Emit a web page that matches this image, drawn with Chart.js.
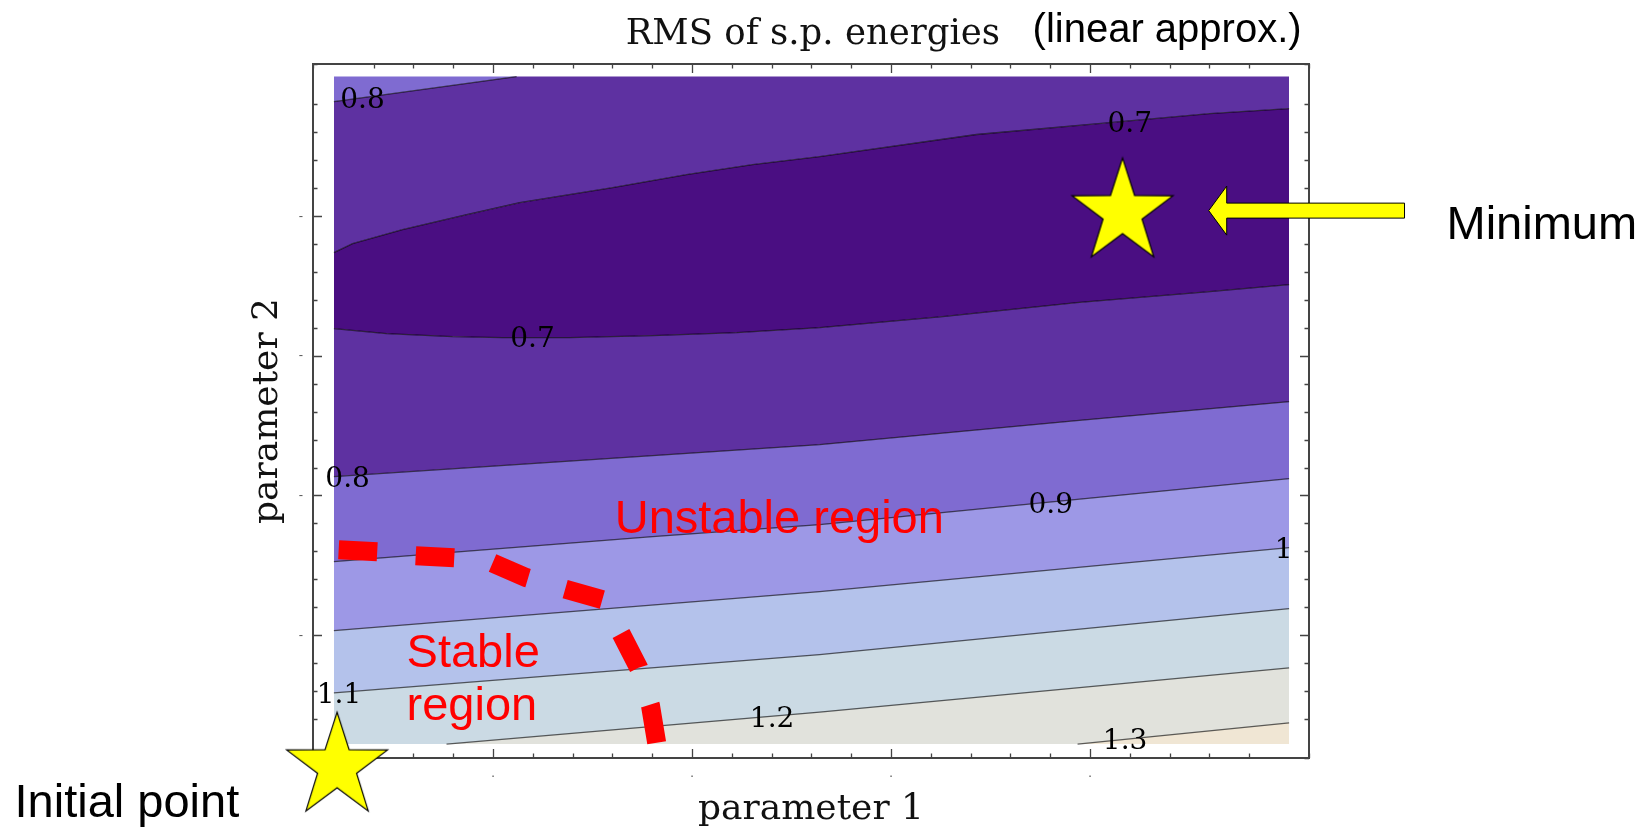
<!DOCTYPE html>
<html>
<head>
<meta charset="utf-8">
<title>RMS of s.p. energies</title>
<script src="https://cdn.jsdelivr.net/npm/chart.js@4.4.0/dist/chart.umd.min.js"></script>
<style>
  html, body { margin: 0; padding: 0; background: #fff; }
  #wrap { width: 1646px; height: 828px; position: relative; }
</style>
</head>
<body>
<div id="wrap"><canvas id="chartCanvas"></canvas></div>
<script>
// extent of the filled contour area (parameter 1 / parameter 2 units)
const xLeft = 0.2, xRight = 5.0;
const yTop = 5.0, yBottom = 0.22;

// contour lines, top to bottom
const c08TopX = [0.2, 1.118, 5.0];
const c08TopY = [4.821, 5.0, 5.0];
const c07UpX = [0.2, 0.294, 0.545, 0.867, 1.133, 1.601, 1.972, 2.304, 2.641, 3.43, 4.098, 4.601, 5.0];
const c07UpY = [3.739, 3.804, 3.904, 4.011, 4.097, 4.205, 4.298, 4.37, 4.427, 4.585, 4.67, 4.735, 4.771];
const c07LoX = [0.2, 0.465, 0.796, 1.048, 1.384, 1.801, 2.224, 2.641, 3.259, 3.932, 4.601, 5.0];
const c07LoY = [3.195, 3.159, 3.138, 3.13, 3.13, 3.145, 3.166, 3.202, 3.281, 3.381, 3.46, 3.51];
const c08X = [0.2, 2.641, 3.932, 5.0];
const c08Y = [2.135, 2.364, 2.536, 2.672];
const c09X = [0.2, 1.802, 2.641, 5.0];
const c09Y = [1.526, 1.705, 1.791, 2.12];
const c10X = [0.2, 2.641, 5.0];
const c10Y = [1.032, 1.311, 1.626];
const c11X = [0.2, 2.641, 5.0];
const c11Y = [0.587, 0.86, 1.189];
const c12X = [0.2, 0.766, 2.641, 5.0];
const c12Y = [0.22, 0.22, 0.448, 0.766];
const c13X = [0.2, 3.937, 5.0];
const c13Y = [0.22, 0.22, 0.372];

// contour labels
const labelText = ["0.8", "0.7", "0.7", "0.8", "0.9", "1", "1.1", "1.2", "1.3"];
const labelX = [0.344, 4.199, 1.198, 0.269, 3.802, 4.973, 0.226, 2.402, 4.176];
const labelY = [4.85, 4.678, 3.138, 2.135, 1.945, 1.626, 0.584, 0.415, 0.258];

// red dashed border between the stable and unstable region
const borderX = [0.224, 0.42, 0.611, 0.807, 0.992, 1.168, 1.354, 1.55, 1.646, 1.731, 1.791, 1.822];
const borderY = [1.612, 1.597, 1.569, 1.554, 1.519, 1.411, 1.332, 1.254, 1.003, 0.767, 0.494, 0.229];

// initial point and minimum
const starX = [0.216, 4.163];
const starY = [0.057, 4.026];

// arrow pointing at the minimum
const arrowTip = { x: 4.596, y: 4.04 };
const arrowTail = { x: 5.58, y: 4.04 };

const majorTicks = [1, 2, 3, 4, 5];

// colours of the bands, top to bottom
const bandColors = ["#7f6bd1", "#5e31a1", "#4a0e82", "#5e31a1", "#7f6bd1",
  "#9d98e6", "#b4c2eb", "#cbdae4", "#e1e2dc", "#f0e6d4"];
const lineColor = "rgba(0,0,0,0.62)";

const SERIF = "'DejaVu Serif', serif";
const SANS = "'Liberation Sans', Arial, sans-serif";

const notes = [
  { text: "RMS of s.p. energies", x: 1.666, y: 5.236, font: "35.5px " + SERIF, color: "#111" },
  { text: "(linear approx.)", x: 3.711, y: 5.25, font: "40px " + SANS, color: "#000" },
  { text: "Minimum", x: 5.791, y: 3.84, font: "47px " + SANS, color: "#000" },
  { text: "Initial point", x: -1.405, y: -0.301, font: "47px " + SANS, color: "#000" },
  { text: "Unstable region", x: 1.611, y: 1.734, font: "47px " + SANS, color: "#ff0000" },
  { text: "Stable", x: 0.565, y: 0.774, font: "47px " + SANS, color: "#ff0000" },
  { text: "region", x: 0.565, y: 0.394, font: "47px " + SANS, color: "#ff0000" },
];

const isMajor = (v) => Math.abs(v - Math.round(v)) < 1e-6 && majorTicks.includes(Math.round(v));
const pts = (xs, ys) => xs.map((x, i) => ({ x, y: ys[i] }));
const edgeY = (y) => y >= yTop - 1e-9 || y <= yBottom + 1e-9;

// five-pointed star used as point style
function makeStar() {
  const c = document.createElement("canvas");
  c.width = 112;
  c.height = 116;
  const g = c.getContext("2d");
  const cx = 56, cy = 58;
  g.beginPath();
  for (let k = 0; k < 10; k++) {
    const a = -Math.PI / 2 + (k * Math.PI) / 5;
    const r = k % 2 === 0 ? 53 : 20.5;
    const px = cx + r * Math.cos(a);
    const py = cy + r * Math.sin(a) * 1.03;
    if (k === 0) g.moveTo(px, py);
    else g.lineTo(px, py);
  }
  g.closePath();
  g.fillStyle = "#ffff00";
  g.fill();
  g.lineWidth = 1.2;
  g.strokeStyle = "#000";
  g.stroke();
  return c;
}

// band boundary: only fills, no stroke
function band(xs, ys, color) {
  return {
    data: pts(xs, ys),
    fill: color ? "-1" : false,
    backgroundColor: color || "rgba(0,0,0,0)",
    borderColor: "rgba(0,0,0,0)",
    borderWidth: 0,
    pointRadius: 0,
    tension: 0,
  };
}

// contour line: drop the parts that run along the edge of the plot
function line(xs, ys) {
  const keep = xs.map((x, i) => !edgeY(ys[i]) ||
    (i > 0 && !edgeY(ys[i - 1])) || (i < ys.length - 1 && !edgeY(ys[i + 1])));
  return {
    data: pts(xs, ys).filter((p, i) => keep[i]),
    fill: false,
    borderColor: lineColor,
    borderWidth: 1.3,
    pointRadius: 0,
    tension: 0,
  };
}

const datasets = [
  band([xLeft, xRight], [yTop, yTop], null),
  band(c08TopX, c08TopY, bandColors[0]),
  band(c07UpX, c07UpY, bandColors[1]),
  band(c07LoX, c07LoY, bandColors[2]),
  band(c08X, c08Y, bandColors[3]),
  band(c09X, c09Y, bandColors[4]),
  band(c10X, c10Y, bandColors[5]),
  band(c11X, c11Y, bandColors[6]),
  band(c12X, c12Y, bandColors[7]),
  band(c13X, c13Y, bandColors[8]),
  band([xLeft, xRight], [yBottom, yBottom], bandColors[9]),
  line(c08TopX, c08TopY),
  line(c07UpX, c07UpY),
  line(c07LoX, c07LoY),
  line(c08X, c08Y),
  line(c09X, c09Y),
  line(c10X, c10Y),
  line(c11X, c11Y),
  line(c12X, c12Y),
  line(c13X, c13Y),
  {
    data: pts(borderX, borderY),
    borderColor: "#ff0000",
    borderWidth: 19,
    borderDash: [38.6, 38.7],
    borderCapStyle: "butt",
    borderJoinStyle: "miter",
    pointRadius: 0,
    tension: 0,
    fill: false,
    order: -1,
  },
  {
    data: pts(starX, starY),
    showLine: false,
    pointStyle: makeStar(),
    pointRadius: 54,
    clip: false,
    order: -2,
  },
];

// frame and inward ticks, drawn over the fills but under the marks
const framePlugin = {
  id: "frame",
  beforeDatasetsDraw(chart) {
    const { ctx, chartArea: a, scales } = chart;
    ctx.save();
    ctx.strokeStyle = "#444";
    ctx.lineWidth = 1.3;
    scales.x.ticks.forEach((t) => {
      const px = Math.round(scales.x.getPixelForValue(t.value)) + 0.5;
      const len = isMajor(t.value) ? 9 : 4.5;
      ctx.beginPath();
      ctx.moveTo(px, a.bottom);
      ctx.lineTo(px, a.bottom - len);
      ctx.moveTo(px, a.top);
      ctx.lineTo(px, a.top + len);
      ctx.stroke();
    });
    scales.y.ticks.forEach((t) => {
      const py = Math.round(scales.y.getPixelForValue(t.value)) + 0.5;
      const len = isMajor(t.value) ? 9 : 4.5;
      ctx.beginPath();
      ctx.moveTo(a.left, py);
      ctx.lineTo(a.left + len, py);
      ctx.moveTo(a.right, py);
      ctx.lineTo(a.right - len, py);
      ctx.stroke();
    });
    ctx.lineWidth = 2;
    ctx.strokeRect(a.left, a.top, a.right - a.left, a.bottom - a.top);
    ctx.restore();
  },
};

// contour labels, arrow and text notes
const notesPlugin = {
  id: "notes",
  afterDatasetsDraw(chart) {
    const { ctx, scales } = chart;
    const X = (v) => scales.x.getPixelForValue(v);
    const Y = (v) => scales.y.getPixelForValue(v);
    ctx.save();
    ctx.fillStyle = "#000";
    ctx.font = "28px " + SERIF;
    ctx.textAlign = "center";
    ctx.textBaseline = "alphabetic";
    labelText.forEach((s, i) => ctx.fillText(s, X(labelX[i]), Y(labelY[i]) + 10));

    const tx = X(arrowTip.x), ty = Y(arrowTip.y), ex = X(arrowTail.x);
    ctx.beginPath();
    ctx.moveTo(tx, ty);
    ctx.lineTo(tx + 18, ty - 24.5);
    ctx.lineTo(tx + 18, ty - 7.5);
    ctx.lineTo(ex, ty - 7.5);
    ctx.lineTo(ex, ty + 7.5);
    ctx.lineTo(tx + 18, ty + 7.5);
    ctx.lineTo(tx + 18, ty + 24.5);
    ctx.closePath();
    ctx.fillStyle = "#ffff00";
    ctx.fill();
    ctx.lineWidth = 1;
    ctx.strokeStyle = "#000";
    ctx.stroke();

    ctx.textAlign = "left";
    notes.forEach((n) => {
      ctx.font = n.font;
      ctx.fillStyle = n.color;
      ctx.fillText(n.text, X(n.x), Y(n.y));
    });
    ctx.restore();
  },
};

const ctx = document.getElementById("chartCanvas").getContext("2d");
new Chart(ctx, {
  type: "line",
  data: { datasets },
  options: {
    responsive: true,
    maintainAspectRatio: false,
    animation: false,
    events: [],
    layout: { padding: { left: 250, top: 64, right: 337, bottom: 0 } },
    plugins: {
      legend: { display: false },
      tooltip: { enabled: false },
      filler: { drawTime: "beforeDatasetsDraw" },
    },
    scales: {
      x: {
        type: "linear",
        min: 0.095,
        max: 5.1,
        grid: { display: false },
        border: { display: false },
        ticks: {
          stepSize: 0.2,
          autoSkip: false,
          maxRotation: 0,
          padding: 0,
          color: "#555",
          font: { size: 13 },
          callback: (v) => (isMajor(v) ? "." : ""),
        },
        title: { display: true, text: "parameter 1", color: "#111", padding: 0,
          font: { family: SERIF, size: 36, lineHeight: 1.0 } },
        afterFit: (s) => { s.height = 70; },
      },
      y: {
        type: "linear",
        min: 0.12,
        max: 5.09,
        grid: { display: false },
        border: { display: false },
        ticks: {
          stepSize: 0.2,
          autoSkip: false,
          padding: 2,
          color: "#555",
          font: { size: 13 },
          callback: (v) => (isMajor(v) ? "-" : ""),
        },
        title: { display: true, text: "parameter 2", color: "#111", padding: 0,
          font: { family: SERIF, size: 36, lineHeight: 1.0 } },
        afterFit: (s) => { s.width = 63; },
      },
    },
  },
  plugins: [framePlugin, notesPlugin],
});
</script>
</body>
</html>
